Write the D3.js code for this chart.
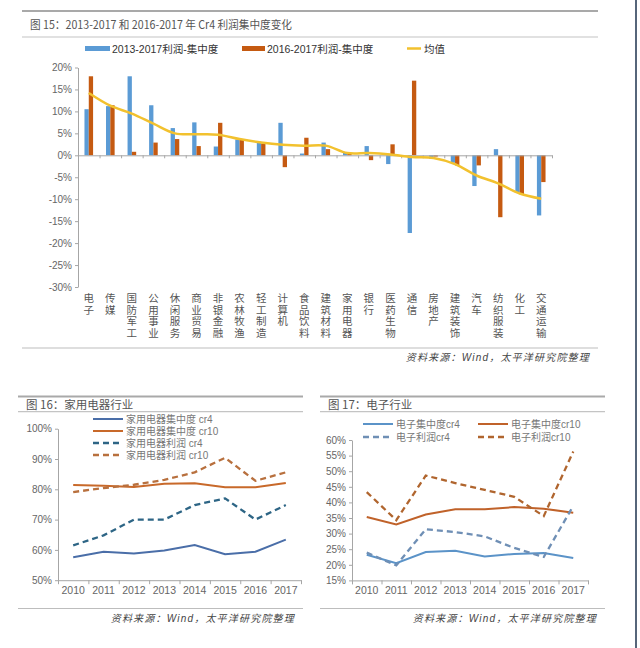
<!DOCTYPE html>
<html>
<head>
<meta charset="utf-8">
<script src="https://cdn.jsdelivr.net/npm/d3@7"></script>
<style>
    body { margin: 0; background: #fff; }
    svg { display: block; font-family: "Liberation Sans", "Noto Sans CJK SC", sans-serif; }
    .axis path, .axis line { stroke: #a6a6a6; }
    .axis text { fill: #666; font-size: 10px; }
</style>
</head>
<body>
<div class="page"></div>
<script>
// Figure 15 data (percent).
const industries = ['电子', '传媒', '国防军工', '公用事业', '休闲服务', '商业贸易', '非银金融', '农林牧渔',
    '轻工制造', '计算机', '食品饮料', '建筑材料', '家用电器', '银行', '医药生物', '通信', '房地产',
    '建筑装饰', '汽车', '纺织服装', '化工', '交通运输'];
const profit1317 = [10.5, 11.2, 18.0, 11.4, 6.2, 7.5, 2.0, 3.6, 3.1, 7.4, 0.4, 2.9, 0.6, 2.1, -2.0, -17.7, -0.8, -1.7, -7.0, 1.4, -8.5, -13.7];
const profit1617 = [18.0, 11.4, 0.8, 2.9, 3.7, 2.1, 7.4, 3.7, 2.7, -2.7, 4.0, 1.4, 0.4, -1.1, 2.5, 17.0, -0.3, -2.3, -2.3, -14.1, -8.9, -6.1];
const meanValue = [14.2, 11.3, 9.5, 7.2, 5.0, 4.8, 4.7, 3.7, 2.9, 2.4, 2.2, 2.2, 0.5, 0.5, 0.2, -0.4, -0.6, -2.0, -4.6, -6.4, -8.7, -9.9];
const barTicks = [20, 15, 10, 5, 0, -5, -10, -15, -20, -25, -30];

// Figure 16 / 17 data (percent).
const years = ['2010', '2011', '2012', '2013', '2014', '2015', '2016', '2017'];
const applianceCr4 = [57.6, 59.4, 58.8, 59.8, 61.6, 58.6, 59.4, 63.4];
const applianceCr10 = [81.4, 81.2, 80.8, 81.8, 82.0, 80.7, 80.7, 82.1];
const applianceProfitCr4 = [61.5, 64.8, 70.0, 70.0, 74.8, 77.0, 70.0, 74.8];
const applianceProfitCr10 = [79.1, 80.4, 81.5, 83.1, 85.6, 90.4, 82.8, 85.6];
const applianceTicks = [50, 60, 70, 80, 90, 100];
const electronCr4 = [23.2, 20.5, 24.1, 24.5, 22.7, 23.5, 23.8, 22.2];
const electronCr10 = [35.3, 32.9, 36.1, 37.8, 37.8, 38.5, 38.0, 36.7];
const electronProfitCr4 = [23.9, 19.8, 31.4, 30.5, 29.1, 25.4, 22.5, 38.9];
const electronProfitCr10 = [43.3, 34.3, 48.6, 46.2, 44.0, 41.8, 35.6, 56.3];
const electronTicks = [15, 20, 25, 30, 35, 40, 45, 50, 55, 60];

const sourceText = '资料来源：Wind，太平洋研究院整理';

const svg = d3.select('.page')
    .append('svg')
    .attr('width', 640)
    .attr('height', 648);

drawBarChart();
drawLineChart({
    left: 18, right: 303, x0: 58, x1: 301, yTop: 428.7, yBottom: 580.2,
    title: '图 16：家用电器行业',
    ticks: applianceTicks,
    series: [
        {name: '家用电器集中度 cr4', values: applianceCr4, color: '#4a6ea8', dash: null},
        {name: '家用电器集中度 cr10', values: applianceCr10, color: '#c8692a', dash: null},
        {name: '家用电器利润 cr4', values: applianceProfitCr4, color: '#2d6585', dash: '6,4'},
        {name: '家用电器利润 cr10', values: applianceProfitCr10, color: '#b8703e', dash: '6,4'}
    ],
    legend: (i) => ({x: 93, y: 419 + i * 12})
});
drawLineChart({
    left: 320, right: 605, x0: 352, x1: 588, yTop: 440, yBottom: 580.4,
    title: '图 17：电子行业',
    ticks: electronTicks,
    series: [
        {name: '电子集中度cr4', values: electronCr4, color: '#5b93c8', dash: null},
        {name: '电子集中度cr10', values: electronCr10, color: '#c0622a', dash: null},
        {name: '电子利润cr4', values: electronProfitCr4, color: '#6f8fb5', dash: '6,4'},
        {name: '电子利润cr10', values: electronProfitCr10, color: '#b0652e', dash: '6,4'}
    ],
    legend: (i) => ({x: i % 2 ? 478 : 363, y: 424 + Math.floor(i / 2) * 13})
});

// Screen edge on the right.
svg.append('line')
    .attr('x1', 636).attr('x2', 636)
    .attr('y1', 0).attr('y2', 648)
    .attr('stroke', '#56657a')
    .attr('stroke-width', 2);

function drawHeader(left, right, top, bottom, title, width) {
    svg.append('line')
        .attr('x1', left).attr('x2', right)
        .attr('y1', top).attr('y2', top)
        .attr('stroke', '#a9a9a9').attr('stroke-width', 2);
    svg.append('line')
        .attr('x1', left).attr('x2', right)
        .attr('y1', bottom).attr('y2', bottom)
        .attr('stroke', '#c4c4c4').attr('stroke-width', 1.2);
    const t = svg.append('text')
        .attr('x', left + 8)
        .attr('y', (top + bottom) / 2 + 4.5)
        .attr('fill', '#555')
        .style('font-size', '11.5px')
        .style('font-family', '"Noto Sans CJK SC", sans-serif')
        .text(title);
    if (width) {
        t.attr('textLength', width).attr('lengthAdjust', 'spacingAndGlyphs');
    }
}

function drawSource(left, right, y) {
    svg.append('line')
        .attr('x1', left).attr('x2', right)
        .attr('y1', y).attr('y2', y)
        .attr('stroke', '#bdbdbd').attr('stroke-width', 1.2);
    svg.append('text')
        .attr('x', right - 8)
        .attr('y', y + 13)
        .attr('text-anchor', 'end')
        .attr('fill', '#444')
        .style('font-size', '10px')
        .style('font-style', 'italic')
        .style('letter-spacing', '1.2px')
        .text(sourceText);
}

function drawBarChart() {
    drawHeader(22, 598, 11, 37, '图 15：2013-2017 和 2016-2017 年 Cr4 利润集中度变化', 262);

    const x0 = d3.scaleBand()
        .domain(industries)
        .range([78, 552])
        .paddingInner(0.6)
        .paddingOuter(0.3);
    const x1 = d3.scaleBand()
        .domain(['a', 'b'])
        .range([0, x0.bandwidth()]);
    const y = d3.scaleLinear()
        .domain([-30, 20])
        .range([287, 67.5]);

    // Legend
    const legend = svg.append('g').style('font-size', '10.5px').attr('fill', '#333');
    legend.append('rect').attr('x', 85).attr('y', 46).attr('width', 25).attr('height', 5).attr('fill', '#5b9bd5');
    legend.append('text').attr('x', 112).attr('y', 52.5).text('2013-2017利润-集中度');
    legend.append('rect').attr('x', 242).attr('y', 46).attr('width', 23).attr('height', 5).attr('fill', '#c55a11');
    legend.append('text').attr('x', 267).attr('y', 52.5).text('2016-2017利润-集中度');
    legend.append('line').attr('x1', 407).attr('x2', 421).attr('y1', 48.5).attr('y2', 48.5)
        .attr('stroke', '#f2c12e').attr('stroke-width', 2.5);
    legend.append('text').attr('x', 424).attr('y', 52.5).text('均值');

    // Y axis
    svg.append('g')
        .attr('class', 'axis')
        .attr('transform', 'translate(78,0)')
        .call(d3.axisLeft(y).tickValues(barTicks).tickSize(3).tickSizeOuter(0).tickFormat(d => d + '%'));

    // Bars
    const rows = industries.map((name, i) => ({name: name, a: profit1317[i], b: profit1617[i], m: meanValue[i]}));
    const groups = svg.append('g')
        .selectAll('g')
        .data(rows)
        .enter()
        .append('g')
        .attr('transform', d => `translate(${x0(d.name)},0)`);
    groups.append('rect')
        .attr('x', x1('a'))
        .attr('width', x1.bandwidth())
        .attr('y', d => y(Math.max(0, d.a)))
        .attr('height', d => Math.abs(y(d.a) - y(0)))
        .attr('fill', '#5b9bd5');
    groups.append('rect')
        .attr('x', x1('b'))
        .attr('width', x1.bandwidth())
        .attr('y', d => y(Math.max(0, d.b)))
        .attr('height', d => Math.abs(y(d.b) - y(0)))
        .attr('fill', '#c55a11');

    // Zero line with category separators
    const sep = d3.scaleLinear().domain([0, industries.length]).range([78, 552]);
    svg.append('g')
        .attr('class', 'axis')
        .attr('transform', `translate(0,${y(0)})`)
        .call(d3.axisBottom(sep).ticks(industries.length).tickSize(3).tickSizeOuter(0).tickFormat(''));

    // Mean line
    const line = d3.line()
        .x(d => x0(d.name) + x0.bandwidth() / 2)
        .y(d => y(d.m))
        .curve(d3.curveCatmullRom.alpha(0.5));
    svg.append('path')
        .datum(rows)
        .attr('d', line)
        .attr('fill', 'none')
        .attr('stroke', '#f2c12e')
        .attr('stroke-width', 2.5);

    // Vertical category labels
    const labels = svg.append('g')
        .attr('fill', '#555')
        .style('font-size', '10.5px')
        .selectAll('text')
        .data(industries)
        .enter()
        .append('text')
        .attr('text-anchor', 'middle');
    labels.selectAll('tspan')
        .data(d => d.split('').map(c => ({c: c, name: d})))
        .enter()
        .append('tspan')
        .attr('x', d => x0(d.name) + x0.bandwidth() / 2)
        .attr('y', (d, i) => 302 + i * 11.7)
        .text(d => d.c);

    drawSource(22, 598, 348);
}

function drawLineChart(cfg) {
    drawHeader(cfg.left, cfg.right, 396.5, 411.7, cfg.title);

    const x = d3.scaleBand().domain(years).range([cfg.x0, cfg.x1]);
    const y = d3.scaleLinear()
        .domain([cfg.ticks[0], cfg.ticks[cfg.ticks.length - 1]])
        .range([cfg.yBottom, cfg.yTop]);

    svg.append('g')
        .attr('class', 'axis')
        .attr('transform', `translate(${cfg.x0},0)`)
        .call(d3.axisLeft(y).tickValues(cfg.ticks).tickSize(3).tickSizeOuter(0).tickFormat(d => d + '%'));

    const sep = d3.scaleLinear().domain([0, years.length]).range([cfg.x0, cfg.x1]);
    svg.append('g')
        .attr('class', 'axis')
        .attr('transform', `translate(0,${cfg.yBottom})`)
        .call(d3.axisBottom(sep).ticks(years.length).tickSize(4).tickSizeOuter(0).tickFormat(''));
    svg.append('g')
        .attr('class', 'axis')
        .attr('transform', `translate(0,${cfg.yBottom})`)
        .call(d3.axisBottom(x).tickSize(0).tickPadding(6))
        .call(g => g.select('.domain').remove())
        .selectAll('text')
        .style('font-size', '10.5px');

    const line = d3.line()
        .x((d, i) => x(years[i]) + x.bandwidth() / 2)
        .y(d => y(d));

    cfg.series.forEach((s, i) => {
        svg.append('path')
            .datum(s.values)
            .attr('d', line)
            .attr('fill', 'none')
            .attr('stroke', s.color)
            .attr('stroke-width', s.dash ? 2.3 : 2)
            .attr('stroke-dasharray', s.dash);

        const pos = cfg.legend(i);
        svg.append('line')
            .attr('x1', pos.x).attr('x2', pos.x + 30)
            .attr('y1', pos.y).attr('y2', pos.y)
            .attr('stroke', s.color)
            .attr('stroke-width', s.dash ? 2.3 : 2)
            .attr('stroke-dasharray', s.dash);
        svg.append('text')
            .attr('x', pos.x + 33)
            .attr('y', pos.y + 3.5)
            .attr('fill', '#777')
            .style('font-size', '10px')
            .text(s.name);
    });

    drawSource(cfg.left, cfg.right, 608.5);
}
</script>
</body>
</html>
